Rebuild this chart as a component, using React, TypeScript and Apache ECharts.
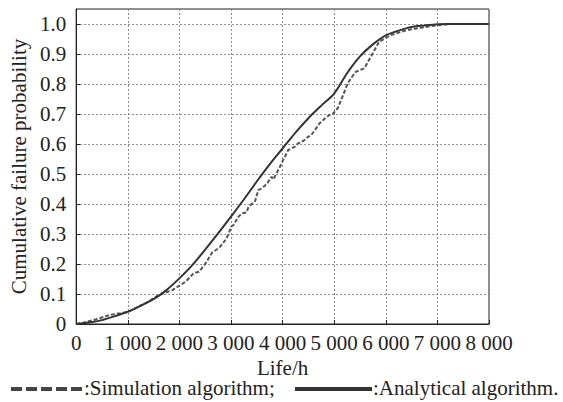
import React, { useEffect, useRef } from "react";
import * as echarts from "echarts";

const analyticalX = [0, 250, 500, 750, 1000, 1250, 1500, 1750, 2000, 2250, 2500, 2750, 3000, 3250, 3500, 3750, 4000, 4250, 4500, 4750, 5000, 5250, 5500, 5750, 6000, 6250, 6500, 6750, 7000, 7250, 7500, 8000];
const analyticalP = [0, 0.005, 0.013, 0.026, 0.041, 0.061, 0.083, 0.113, 0.152, 0.196, 0.248, 0.302, 0.358, 0.415, 0.475, 0.532, 0.585, 0.638, 0.686, 0.728, 0.768, 0.836, 0.892, 0.932, 0.962, 0.978, 0.99, 0.995, 0.999, 1.0, 1.0, 1.0];

const simulationX = [0, 135, 391, 648, 1000, 1352, 1609, 1865, 2121, 2282, 2378, 2500, 2635, 2780, 2891, 2955, 3000, 3050, 3100, 3147, 3212, 3300, 3340, 3404, 3468, 3532, 3600, 3700, 3788, 3821, 3949, 4013, 4109, 4237, 4301, 4400, 4494, 4558, 4650, 4718, 4820, 4910, 4960, 5071, 5135, 5263, 5350, 5423, 5583, 5712, 5872, 6096, 6417, 6801, 7058, 7250];
const simulationP = [0, 0.004, 0.016, 0.03, 0.04, 0.07, 0.097, 0.113, 0.141, 0.17, 0.174, 0.2, 0.238, 0.255, 0.28, 0.3, 0.324, 0.33, 0.345, 0.358, 0.369, 0.372, 0.39, 0.4, 0.41, 0.447, 0.452, 0.468, 0.491, 0.482, 0.524, 0.547, 0.58, 0.591, 0.602, 0.61, 0.624, 0.63, 0.652, 0.669, 0.685, 0.697, 0.698, 0.72, 0.747, 0.802, 0.825, 0.841, 0.852, 0.891, 0.941, 0.963, 0.98, 0.991, 0.997, 1.0];

const yTicks = [0, 0.1, 0.2, 0.3, 0.4, 0.5, 0.6, 0.7, 0.8, 0.9, 1.0];
const xAxisName = "Life/h";
const yAxisName = "Cumulative failure probability";
const legendSim = ":Simulation algorithm;";
const legendAna = ":Analytical algorithm.";

const FONT = "Liberation Serif";

export default function App() {
  const ref = useRef<HTMLDivElement>(null);
  useEffect(() => {
    if (!ref.current) return;
    const chart = echarts.init(ref.current, null, { renderer: "svg" });
    const ana = analyticalX.map((x, i) => [x, analyticalP[i]]);
    const sim = simulationX.map((x, i) => [x, simulationP[i]]);
    const gridLine = { show: true, lineStyle: { color: "#8a8a8a", width: 1, type: [2, 2] as any } };
    chart.setOption({
      animation: false,
      backgroundColor: "#fff",
      textStyle: { fontFamily: FONT },
      grid: { left: 73, right: 74, top: 9, bottom: 78, show: true, borderColor: "#222", borderWidth: 1, backgroundColor: "transparent" },
      xAxis: {
        type: "value",
        min: 0,
        max: 8000,
        interval: 1000,
        name: xAxisName,
        nameLocation: "middle",
        nameGap: 30,
        nameTextStyle: { fontFamily: FONT, fontSize: 21, color: "#222" },
        axisLine: { show: true, lineStyle: { color: "#222", width: 1 } },
        axisTick: { show: true, inside: true, length: 4, lineStyle: { color: "#222" } },
        axisLabel: {
          margin: 8,
          fontFamily: FONT,
          fontSize: 21,
          color: "#222",
          formatter: (v: number) => (v === 0 ? "0" : String(v / 1000) + " 000"),
        },
        splitLine: gridLine,
      },
      yAxis: {
        type: "value",
        min: 0,
        max: 1.05,
        interval: 0.1,
        name: yAxisName,
        nameLocation: "middle",
        nameGap: 47,
        nameTextStyle: { fontFamily: FONT, fontSize: 21, color: "#222" },
        axisLine: { show: true, lineStyle: { color: "#222", width: 1 } },
        axisTick: { show: true, inside: true, length: 4, lineStyle: { color: "#222" } },
        axisLabel: {
          margin: 10,
          fontFamily: FONT,
          fontSize: 21,
          color: "#222",
          showMaxLabel: false,
          formatter: (v: number) => {
            if (v > 1.0001) return "";
            const t = yTicks.find((k) => Math.abs(k - v) < 1e-6);
            if (t === undefined) return "";
            return t === 0 ? "0" : t.toFixed(1);
          },
        },
        splitLine: gridLine,
      },
      series: [
        {
          name: "Simulation algorithm",
          type: "line",
          data: sim,
          showSymbol: false,
          smooth: false,
          lineStyle: { color: "#555", width: 2, type: [4, 2] as any },
          z: 3,
        },
        {
          name: "Analytical algorithm",
          type: "line",
          data: ana,
          showSymbol: false,
          smooth: 0.3,
          lineStyle: { color: "#333", width: 2 },
          z: 4,
        },
      ],
      graphic: [
        {
          type: "line",
          shape: { x1: 11, y1: 389, x2: 83, y2: 389 },
          style: { stroke: "#444", lineWidth: 4, lineDash: [11, 4] },
        },
        {
          type: "text",
          left: 84,
          top: 377,
          style: { text: legendSim, fontFamily: FONT, fontSize: 21, fill: "#222" },
        },
        {
          type: "line",
          shape: { x1: 295, y1: 389, x2: 372, y2: 389 },
          style: { stroke: "#333", lineWidth: 4 },
        },
        {
          type: "text",
          left: 373,
          top: 377,
          style: { text: legendAna, fontFamily: FONT, fontSize: 21, fill: "#222" },
        },
      ],
    });
    return () => chart.dispose();
  }, []);
  return <div ref={ref} style={{ width: 563, height: 402, position: "absolute", left: 0, top: 0 }} />;
}
